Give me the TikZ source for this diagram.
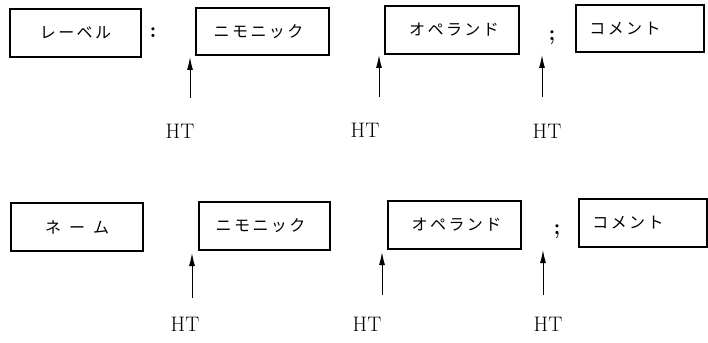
\documentclass[tikz,border=0pt]{standalone}
\usepackage{fontspec}
\newfontfamily\jp[LetterSpace=15]{Noto Sans CJK JP}
\usetikzlibrary{arrows.meta}
\tikzset{
  fbox/.style={draw, line width=1.1pt, rectangle, inner sep=0pt, font=\jp\fontsize{16}{16}\selectfont},
  htlabel/.style={font=\fontsize{21}{21}\selectfont, inner sep=0pt},
  sepmark/.style={font=\fontsize{22}{22}\selectfont\bfseries, inner sep=0pt},
  htarrow/.style={-{Latex[length=13pt,width=6pt]}, line width=1pt}
}
\begin{document}
\begin{tikzpicture}[x=1pt,y=-1pt]
\useasboundingbox (0,0) rectangle (708,342);
% row 1
\node[fbox, minimum width=131pt, minimum height=48pt] (lv) at (75.5,33) {レーベル};
\node[sepmark] (c1) at (153,33) {:};
\node[fbox, minimum width=133pt, minimum height=47pt] (mn1) at (262.5,31.5) {ニモニック\kern8pt};
\node[fbox, minimum width=134pt, minimum height=48pt] (op1) at (452,30) {\kern4pt オペランド};
\node[sepmark] (s1) at (552,38) {;};
\node[fbox, minimum width=128pt, minimum height=47pt] (cm1) at (640,28.5) {コメント\kern30pt};
\node[htlabel] (ht11) at (180,131) {HT};
\node[htlabel] (ht12) at (365,130) {HT};
\node[htlabel] (ht13) at (547,131) {HT};
\coordinate (a11s) at (190,98); \coordinate (a11e) at (190,57);
\coordinate (a12s) at (379,97); \coordinate (a12e) at (379,55);
\coordinate (a13s) at (542,97); \coordinate (a13e) at (542,55);
\draw[htarrow] (a11s) -- (a11e);
\draw[htarrow] (a12s) -- (a12e);
\draw[htarrow] (a13s) -- (a13e);
% row 2
\node[fbox, minimum width=132pt, minimum height=48pt] (nm) at (77,227) {ネ\kern8pt ー\kern8pt ム};
\node[fbox, minimum width=131pt, minimum height=48pt] (mn2) at (264.5,226) {ニモニック\kern8pt};
\node[fbox, minimum width=133pt, minimum height=48pt] (op2) at (454.5,225) {\kern4pt オペランド};
\node[sepmark] (s2) at (557,232) {;};
\node[fbox, minimum width=128pt, minimum height=48pt] (cm2) at (643,223) {コメント\kern30pt};
\node[htlabel] (ht21) at (185,324) {HT};
\node[htlabel] (ht22) at (367,324) {HT};
\node[htlabel] (ht23) at (548,324) {HT};
\coordinate (a21s) at (192,298); \coordinate (a21e) at (192,253);
\coordinate (a22s) at (382,295); \coordinate (a22e) at (382,252);
\coordinate (a23s) at (543,295); \coordinate (a23e) at (543,250);
\draw[htarrow] (a21s) -- (a21e);
\draw[htarrow] (a22s) -- (a22e);
\draw[htarrow] (a23s) -- (a23e);
\end{tikzpicture}
\end{document}
